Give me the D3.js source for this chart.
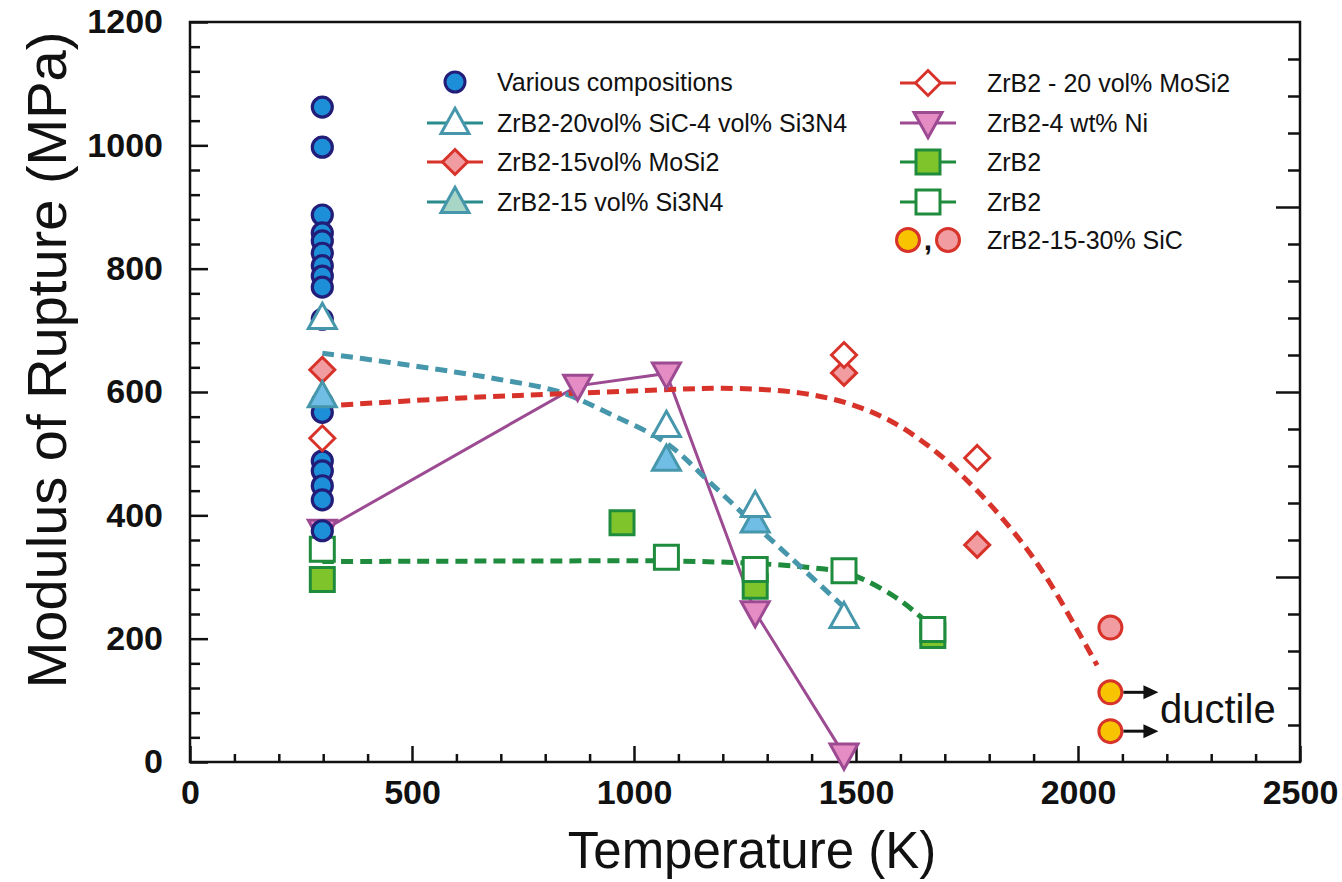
<!DOCTYPE html>
<html>
<head>
<meta charset="utf-8">
<script src="https://cdn.jsdelivr.net/npm/d3@7"></script>
<style>
  body { margin: 0; background: #fff; }
  text { font-family: "Liberation Sans", Arial, sans-serif; fill: #111; }
</style>
</head>
<body>
<div id="chart"></div>
<script>
// ---- data ----
const tempVarious = 298;
const mpaVarious = [1062, 997, 887, 858, 845, 825, 805, 788, 770, 718, 583, 567, 488, 472, 448, 425, 375];

const tempSiCSi3N4 = [298, 1073, 1273, 1473];
const mpaSiCSi3N4 = [720, 545, 415, 235];

const tempMoSi2_15 = [298, 1473, 1773];
const mpaMoSi2_15 = [636, 631, 352];

const tempSi3N4 = [298, 1073, 1273];
const mpaSi3N4 = [593, 490, 390];

const tempMoSi2_20 = [298, 1473, 1773];
const mpaMoSi2_20 = [525, 660, 493];

const tempNi = [298, 873, 1073, 1273, 1473];
const mpaNi = [375, 610, 630, 243, 12];

const tempZrB2a = [298, 973, 1273, 1673];
const mpaZrB2a = [296, 388, 285, 205];

const tempZrB2b = [298, 1073, 1273, 1473, 1673];
const mpaZrB2b = [345, 332, 312, 310, 215];

const tempSiCpink = [2073];
const mpaSiCpink = [218];
const tempSiCductile = [2073, 2073];
const mpaSiCductile = [113, 50];

// dashed trend lines
const fitTealT = [298, 450, 600, 700, 833, 950, 1073, 1173, 1273, 1373, 1473];
const fitTealV = [663, 648, 632, 620, 600, 563, 517, 452, 384, 318, 251];
const fitRedT = [298, 600, 833, 1081, 1200, 1358, 1480, 1583, 1682, 1741, 1809, 1880, 1937, 2000, 2043];
const fitRedV = [577, 590, 597, 604, 606, 600, 582, 551, 502, 463, 412, 350, 290, 212, 157];
const fitGreenT = [298, 800, 1073, 1273, 1400, 1473, 1520, 1583, 1630, 1673];
const fitGreenV = [325, 326, 326, 322, 315, 308, 295, 270, 245, 218];

const xTicks = [0, 500, 1000, 1500, 2000, 2500];
const yTicks = [0, 200, 400, 600, 800, 1000, 1200];

const legendLeft = ["Various compositions", "ZrB2-20vol% SiC-4 vol% Si3N4", "ZrB2-15vol% MoSi2", "ZrB2-15 vol% Si3N4"];
const legendRight = ["ZrB2 - 20 vol% MoSi2", "ZrB2-4 wt% Ni", "ZrB2", "ZrB2", "ZrB2-15-30% SiC"];

// ---- setup ----
const width = 1342, height = 882;
const svg = d3.select("#chart").append("svg")
  .attr("width", width).attr("height", height);

const x = d3.scaleLinear().domain([0, 2500]).range([190, 1300]);
const y = d3.scaleLinear().domain([0, 1200]).range([762, 22]);

const red = "#d8332a", pink = "#f09ca0", teal = "#4797ac", tealDark = "#2a8c8c",
  purple = "#9c4b92", purpleFill = "#e68cc4", green = "#1e8c3c", greenFill = "#80c42c",
  blue = "#1d8fd8", navy = "#221d78", lightBlue = "#70bde6", paleTeal = "#a7d6c6", yellow = "#f8c300";

// marker shapes, centred on 0,0
function shapePath(shape, h) {
  if (shape === "circle") {
    const p = d3.path(); p.arc(0, 0, h, 0, 2 * Math.PI); p.closePath(); return p.toString();
  }
  if (shape === "up") return `M0,${-1.05 * h}L${h},${0.75 * h}L${-h},${0.75 * h}Z`;
  if (shape === "down") return `M0,${1.05 * h}L${h},${-0.75 * h}L${-h},${-0.75 * h}Z`;
  if (shape === "diamond") return `M0,${-h}L${h},0L0,${h}L${-h},0Z`;
  if (shape === "square") return `M${-h},${-h}H${h}V${h}H${-h}Z`;
}

const zip = (ts, vs) => ts.map((t, i) => ({ t, v: vs[i] }));
const fmt = d3.format("d");

// ---- axes ----
const axes = svg.append("g");
function styleAxis(g) {
  g.select(".domain").remove();
  g.selectAll("line").attr("stroke", "#111").attr("stroke-width", 2.5);
  g.selectAll("text").attr("font-size", 34).attr("font-weight", "bold").attr("fill", "#111")
    .attr("font-family", '"Liberation Sans", Arial, sans-serif');
}
axes.append("g").attr("transform", "translate(190,0)")
  .call(d3.axisLeft(y).tickValues(d3.range(0, 1201, 40).filter(v => v % 200)).tickSize(-10).tickFormat(""))
  .call(styleAxis);
axes.append("g").attr("transform", "translate(190,0)")
  .call(d3.axisLeft(y).tickValues(yTicks).tickFormat(fmt).tickSizeInner(-18).tickSizeOuter(0).tickPadding(27))
  .call(styleAxis);
axes.append("g").attr("transform", "translate(0,762)")
  .call(d3.axisBottom(x).tickValues(d3.range(0, 2501, 100).filter(v => v % 500)).tickSize(-8).tickFormat(""))
  .call(styleAxis);
axes.append("g").attr("transform", "translate(0,762)")
  .call(d3.axisBottom(x).tickValues(xTicks).tickFormat(fmt).tickSizeInner(-16).tickSizeOuter(0).tickPadding(18))
  .call(styleAxis);
axes.append("g").attr("transform", "translate(1300,0)")
  .call(d3.axisRight(y).tickValues(d3.range(0, 1201, 60).filter(v => v % 300)).tickSize(-12).tickFormat(""))
  .call(styleAxis);
axes.append("g").attr("transform", "translate(1300,0)")
  .call(d3.axisRight(y).tickValues([300, 600, 900]).tickSize(-24).tickFormat(""))
  .call(styleAxis);
svg.append("rect")
  .attr("x", x(0)).attr("y", y(1200))
  .attr("width", x(2500) - x(0)).attr("height", y(0) - y(1200))
  .attr("fill", "none").attr("stroke", "#111").attr("stroke-width", 2.5);

// axis titles
svg.append("text").attr("x", 752).attr("y", 868).attr("text-anchor", "middle")
  .attr("font-size", 51).text("Temperature (K)");
svg.append("text").attr("transform", "translate(66,360) rotate(-90)").attr("text-anchor", "middle")
  .attr("font-size", 56).text("Modulus of Rupture (MPa)");

// ---- lines ----
const line = d3.line().x(d => x(d.t)).y(d => y(d.v));
const curve = d3.line().x(d => x(d.t)).y(d => y(d.v)).curve(d3.curveCatmullRom);

svg.append("path").datum(zip(tempNi, mpaNi)).attr("d", line)
  .attr("fill", "none").attr("stroke", purple).attr("stroke-width", 3);

[[fitGreenT, fitGreenV, green], [fitTealT, fitTealV, teal], [fitRedT, fitRedV, red]].forEach(([ts, vs, c]) => {
  svg.append("path").datum(zip(ts, vs)).attr("d", curve)
    .attr("fill", "none").attr("stroke", c).attr("stroke-width", 5)
    .attr("stroke-dasharray", "12,7");
});

// ---- markers ----
function drawMarkers(data, shape, h, fill, stroke, sw) {
  svg.append("g").selectAll("path").data(data).join("path")
    .attr("d", shapePath(shape, h))
    .attr("transform", d => `translate(${x(d.t)},${y(d.v)})`)
    .attr("fill", fill).attr("stroke", stroke).attr("stroke-width", sw);
}

drawMarkers(zip(tempNi, mpaNi), "down", 14, purpleFill, purple, 3);
drawMarkers(zip(tempZrB2a, mpaZrB2a), "square", 12, greenFill, green, 3);
drawMarkers(zip(tempZrB2b, mpaZrB2b), "square", 12, "#fff", green, 3);
drawMarkers(mpaVarious.map(v => ({ t: tempVarious, v })), "circle", 10, blue, navy, 3.2);
drawMarkers(zip(tempMoSi2_15, mpaMoSi2_15), "diamond", 12.5, pink, red, 3);
drawMarkers(zip(tempMoSi2_20, mpaMoSi2_20), "diamond", 12.5, "#fff", red, 3);
drawMarkers(zip(tempSi3N4, mpaSi3N4), "up", 14, lightBlue, teal, 3);
drawMarkers(zip(tempSiCSi3N4, mpaSiCSi3N4), "up", 14, "#fff", teal, 3);
drawMarkers(zip(tempSiCpink, mpaSiCpink), "circle", 11.5, pink, red, 3);
drawMarkers(zip(tempSiCductile, mpaSiCductile), "circle", 11.5, yellow, red, 3);

// ductile arrows
const arrows = svg.append("g").selectAll("g").data(zip(tempSiCductile, mpaSiCductile)).join("g")
  .attr("transform", d => `translate(${x(d.t)},${y(d.v)})`);
arrows.append("line").attr("x1", 13).attr("x2", 36).attr("stroke", "#111").attr("stroke-width", 3);
arrows.append("path").attr("d", "M33,-7L48,0L33,7Z").attr("fill", "#111");
svg.append("text").attr("x", 1160).attr("y", 723).attr("font-size", 40).text("ductile");

// ---- legend ----
const legend = svg.append("g").attr("font-size", 25);
const leftStyles = [
  { shape: "circle", h: 10, fill: blue, stroke: navy, line: null },
  { shape: "up", h: 14, fill: "#fff", stroke: teal, line: tealDark },
  { shape: "diamond", h: 12.5, fill: pink, stroke: red, line: red },
  { shape: "up", h: 14, fill: paleTeal, stroke: teal, line: tealDark }
];
const rightStyles = [
  { shape: "diamond", h: 12.5, fill: "#fff", stroke: red, line: red },
  { shape: "down", h: 14, fill: purpleFill, stroke: purple, line: purple },
  { shape: "square", h: 12, fill: greenFill, stroke: green, line: green },
  { shape: "square", h: 12, fill: "#fff", stroke: green, line: green },
  null
];
const leftRows = [82, 123, 162, 202], rightRows = [83, 123, 162, 202, 240];

function legendItem(cx, cy, st, label, tx) {
  if (st) {
    if (st.line) legend.append("line").attr("x1", cx - 28).attr("x2", cx + 28)
      .attr("y1", cy).attr("y2", cy).attr("stroke", st.line).attr("stroke-width", 3);
    legend.append("path").attr("d", shapePath(st.shape, st.h))
      .attr("transform", `translate(${cx},${cy})`)
      .attr("fill", st.fill).attr("stroke", st.stroke).attr("stroke-width", 3);
  }
  legend.append("text").attr("x", tx).attr("y", cy).attr("dy", "0.35em").text(label);
}
legendLeft.forEach((lab, i) => legendItem(455, leftRows[i], leftStyles[i], lab, 497));
legendRight.forEach((lab, i) => legendItem(928, rightRows[i], rightStyles[i], lab, 987));
// last row: two circles separated by a comma
[[908, yellow], [948, pink]].forEach(([cx, f]) => {
  legend.append("path").attr("d", shapePath("circle", 11.5)).attr("transform", `translate(${cx},240)`)
    .attr("fill", f).attr("stroke", red).attr("stroke-width", 3);
});
legend.append("text").attr("x", 928).attr("y", 250).attr("text-anchor", "middle")
  .attr("font-size", 30).attr("font-weight", "bold").text(",");
</script>
</body>
</html>
